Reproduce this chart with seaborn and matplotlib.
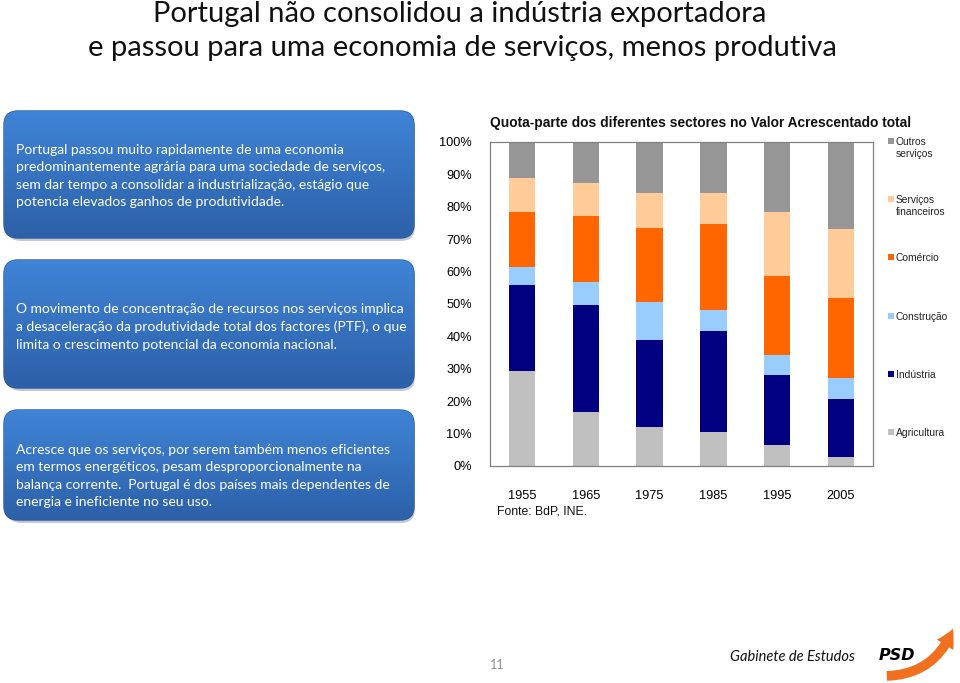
import numpy as np
import pandas as pd
import seaborn as sns
import matplotlib.pyplot as plt
from matplotlib.patches import FancyBboxPatch, Rectangle, FancyArrowPatch

# data (% of gross value added)
years = ['1955', '1965', '1975', '1985', '1995', '2005']
agricultura = [29.3, 16.6, 11.9, 10.4, 6.5, 2.9]
industria = [26.5, 33.2, 26.9, 31.2, 21.7, 17.7]
construcao = [5.5, 7.1, 11.8, 6.6, 6.2, 6.7]
comercio = [17.0, 20.2, 23.0, 26.5, 24.2, 24.5]
serv_financeiros = [10.7, 10.4, 10.7, 9.6, 19.7, 21.5]
outros_servicos = [11.0, 12.5, 15.7, 15.7, 21.7, 26.7]

sectors = ['Agricultura', 'Indústria', 'Construção', 'Comércio',
           'Serviços\nfinanceiros', 'Outros\nserviços']
colors = ['#C0C0C0', '#000080', '#99CCFF', '#FF6600', '#FFCC99', '#969696']

df = pd.DataFrame({
    'year': years,
    sectors[0]: agricultura,
    sectors[1]: industria,
    sectors[2]: construcao,
    sectors[3]: comercio,
    sectors[4]: serv_financeiros,
    sectors[5]: outros_servicos,
})
# normalise each column to 100 %
vals = df[sectors].to_numpy()
vals = vals / vals.sum(axis=1, keepdims=True) * 100
df[sectors] = vals

W, H = 960, 683
fig = plt.figure(figsize=(W / 100, H / 100), dpi=100)
fig.patch.set_facecolor('white')

narrow = ['Liberation Sans', 'DejaVu Sans']
body = ['Lato', 'DejaVu Sans']

# background layer in pixel coordinates
bg = fig.add_axes([0, 0, 1, 1], zorder=0)
bg.set_xlim(0, W)
bg.set_ylim(H, 0)
bg.axis('off')

# slide title
bg.text(460, 14, 'Portugal não consolidou a indústria exportadora',
        ha='center', va='center', fontsize=21, family=body, color='#111111')
bg.text(462, 48, 'e passou para uma economia de serviços, menos produtiva',
        ha='center', va='center', fontsize=21, family=body, color='#111111')

# blue text boxes
grad = np.linspace(0, 1, 256).reshape(-1, 1)
box_cmap = sns.blend_palette(['#3f84d6', '#2d60a8'], as_cmap=True)
boxes = [(111, 238), (260, 388), (410, 520)]
box_texts = [
    'Portugal passou muito rapidamente de uma economia\n'
    'predominantemente agrária para uma sociedade de serviços,\n'
    'sem dar tempo a consolidar a industrialização, estágio que\n'
    'potencia elevados ganhos de produtividade.',
    'O movimento de concentração de recursos nos serviços implica\n'
    'a desaceleração da produtividade total dos factores (PTF), o que\n'
    'limita o crescimento potencial da economia nacional.',
    'Acresce que os serviços, por serem também menos eficientes\n'
    'em termos energéticos, pesam desproporcionalmente na\n'
    'balança corrente.  Portugal é dos países mais dependentes de\n'
    'energia e ineficiente no seu uso.',
]
text_y = [176, 327, 476]
for (top, bot), txt, ty in zip(boxes, box_texts, text_y):
    shadow = FancyBboxPatch((7, top + 3), 408, bot - top, transform=bg.transData,
                            boxstyle='round,pad=0,rounding_size=14',
                            fc='#9aa6b8', ec='none', alpha=0.6, zorder=1)
    bg.add_patch(shadow)
    patch = FancyBboxPatch((4, top), 410, bot - top,
                           boxstyle='round,pad=0,rounding_size=14',
                           fc='#3570c0', ec='#2a5592', lw=1.0, zorder=2)
    bg.add_patch(patch)
    im = bg.imshow(grad, extent=(4, 414, bot, top), cmap=box_cmap,
                   aspect='auto', zorder=2.5)
    im.set_clip_path(patch)
    bg.text(16, ty, txt, ha='left', va='center', fontsize=10.0, family=body,
            color='white', linespacing=1.52, zorder=3)

# chart
ax = fig.add_axes([490 / W, 1 - 466 / H, 383 / W, 324 / H], zorder=2)
bottom = np.zeros(len(years))
for sec, col in zip(sectors, colors):
    sns.barplot(data=df, x='year', y=sec, bottom=bottom, color=col,
                saturation=1, width=0.41, ax=ax, linewidth=0)
    bottom = bottom + df[sec].to_numpy()

ax.set_xlim(-0.5, 5.5)
ax.set_ylim(0, 100)
ax.set_yticks(np.arange(0, 101, 10))
ax.set_yticklabels([f'{v}%' for v in range(0, 101, 10)])
ax.set_xlabel('')
ax.set_ylabel('')
ax.tick_params(axis='y', length=0, pad=13, labelsize=9.2)
ax.tick_params(axis='x', length=0, pad=17, labelsize=9.2)
for lab in ax.get_xticklabels() + ax.get_yticklabels():
    lab.set_family(narrow)
for sp in ax.spines.values():
    sp.set_color('#808080')
    sp.set_linewidth(0.9)

bg.text(490, 123, 'Quota-parte dos diferentes sectores no Valor Acrescentado total',
        ha='left', va='center', fontsize=9.9, fontweight='bold', family=narrow,
        color='#111111')
bg.text(497, 512, 'Fonte: BdP, INE.', ha='left', va='center', fontsize=8.8,
        family=narrow, color='#111111')

# legend (top to bottom: last stacked first)
leg_y = [141, 199, 257, 316, 374, 432]
for sec, col, ly in zip(sectors[::-1], colors[::-1], leg_y):
    bg.add_patch(Rectangle((888, ly - 3.5), 6, 6, fc=col, ec='none', zorder=3))
    bg.text(896, ly - 4, sec, ha='left', va='top', fontsize=7.4, family=narrow,
            color='#222222', linespacing=1.2, zorder=3)

# footer
bg.text(497, 665, '11', ha='center', va='center', fontsize=9, family=body,
        color='#8c8c8c')
bg.text(855, 657, 'Gabinete de Estudos', ha='right', va='center', fontsize=10.5,
        family=body, style='italic', color='#111111')
arrow = FancyArrowPatch((884, 676), (954, 626), connectionstyle='arc3,rad=0.35',
                        arrowstyle='simple,head_length=13,head_width=14,tail_width=7',
                        color='#F07020', lw=0, zorder=3)
bg.add_patch(arrow)
bg.text(897, 655, 'PSD', ha='center', va='center', fontsize=11.5, fontweight='heavy',
        style='italic', family=['DejaVu Sans'], color='black', zorder=4)

fig.savefig('out.png', dpi=100)
